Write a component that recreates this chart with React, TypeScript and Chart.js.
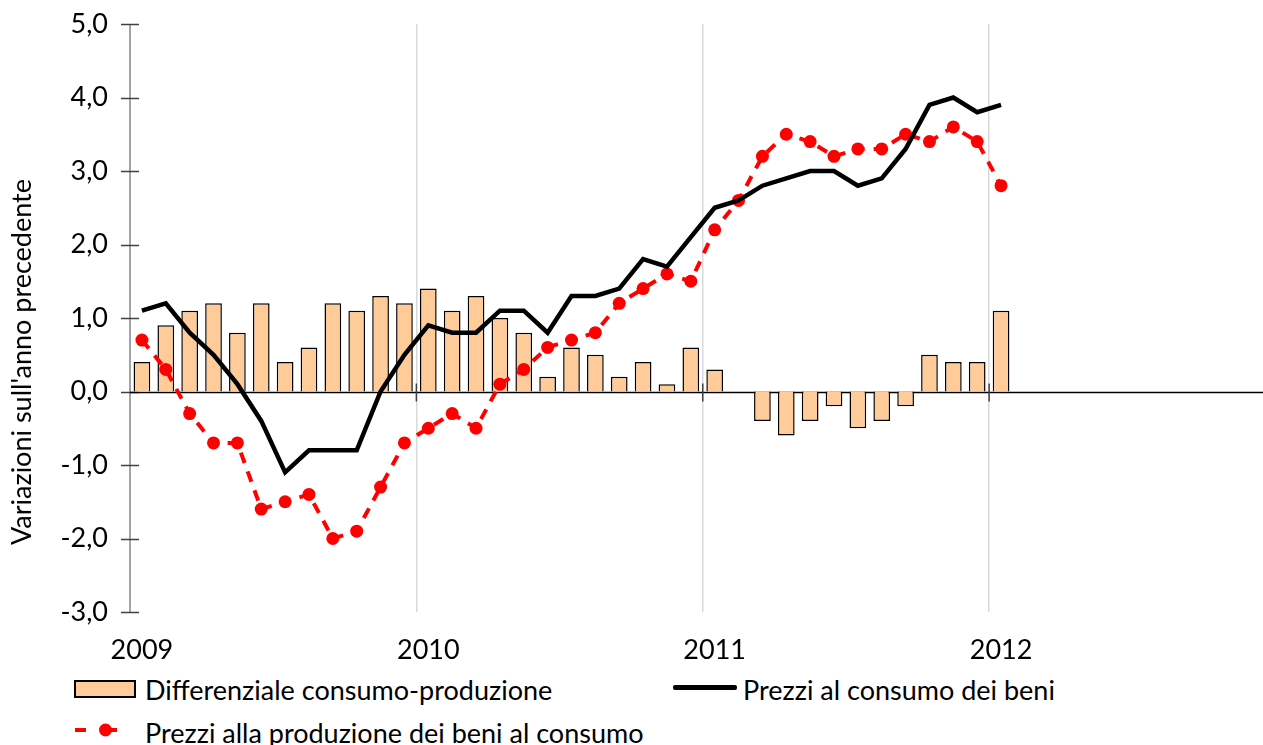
import React, { useEffect, useRef } from 'react';
import { Chart, registerables } from 'chart.js';

Chart.register(...registerables);

const FONT = 'Lato, "Liberation Sans", sans-serif';
const FONT_SIZE = 27;

const years = ['2009', '2010', '2011', '2012'];
const months = [
  '2009-01', '2009-02', '2009-03', '2009-04', '2009-05', '2009-06', '2009-07', '2009-08', '2009-09', '2009-10', '2009-11', '2009-12',
  '2010-01', '2010-02', '2010-03', '2010-04', '2010-05', '2010-06', '2010-07', '2010-08', '2010-09', '2010-10', '2010-11', '2010-12',
  '2011-01', '2011-02', '2011-03', '2011-04', '2011-05', '2011-06', '2011-07', '2011-08', '2011-09', '2011-10', '2011-11', '2011-12',
  '2012-01', '2012-02', '2012-03', '2012-04', '2012-05', '2012-06', '2012-07', '2012-08', '2012-09', '2012-10', '2012-11', '2012-12',
];

// Differenziale consumo-produzione (bars)
const differential = [
  0.4, 0.9, 1.1, 1.2, 0.8, 1.2, 0.4, 0.6, 1.2, 1.1, 1.3, 1.2,
  1.4, 1.1, 1.3, 1.0, 0.8, 0.2, 0.6, 0.5, 0.2, 0.4, 0.1, 0.6,
  0.3, 0.0, -0.4, -0.6, -0.4, -0.2, -0.5, -0.4, -0.2, 0.5, 0.4, 0.4,
  1.1,
];

// Prezzi al consumo dei beni (black line)
const consumerPrices = [
  1.1, 1.2, 0.8, 0.5, 0.1, -0.4, -1.1, -0.8, -0.8, -0.8, 0.0, 0.5,
  0.9, 0.8, 0.8, 1.1, 1.1, 0.8, 1.3, 1.3, 1.4, 1.8, 1.7, 2.1,
  2.5, 2.6, 2.8, 2.9, 3.0, 3.0, 2.8, 2.9, 3.3, 3.9, 4.0, 3.8,
  3.9,
];

// Prezzi alla produzione dei beni al consumo (red dashed line)
const producerPrices = [
  0.7, 0.3, -0.3, -0.7, -0.7, -1.6, -1.5, -1.4, -2.0, -1.9, -1.3, -0.7,
  -0.5, -0.3, -0.5, 0.1, 0.3, 0.6, 0.7, 0.8, 1.2, 1.4, 1.6, 1.5,
  2.2, 2.6, 3.2, 3.5, 3.4, 3.2, 3.3, 3.3, 3.5, 3.4, 3.6, 3.4,
  2.8,
];

const Y_MIN = -3;
const Y_MAX = 5;

const fmt = (v: number) => v.toFixed(1).replace('.', ',');

export default function App() {
  const ref = useRef<HTMLCanvasElement>(null);

  useEffect(() => {
    document.body.style.margin = '0';
    document.body.style.overflow = 'hidden';
    Chart.defaults.font.family = FONT;
    Chart.defaults.font.size = FONT_SIZE;
    Chart.defaults.color = '#000';

    const decor = {
      id: 'decor',
      beforeDatasetsDraw(chart: any) {
        const { ctx, chartArea, scales } = chart;
        const { left, right, top, bottom } = chartArea;
        const x = scales.x;
        const y = scales.y;
        ctx.save();
        // y axis line
        ctx.strokeStyle = '#868686';
        ctx.lineWidth = 1.5;
        ctx.beginPath();
        ctx.moveTo(left, top);
        ctx.lineTo(left, bottom);
        ctx.stroke();
        // y tick marks (crossing)
        ctx.strokeStyle = '#404040';
        y.ticks.forEach((t: any) => {
          const py = Math.round(y.getPixelForValue(t.value)) + 0.5;
          ctx.beginPath();
          ctx.moveTo(left - 9, py);
          ctx.lineTo(left + 9, py);
          ctx.stroke();
        });
        // zero line
        const y0 = Math.round(y.getPixelForValue(0)) + 0.5;
        ctx.strokeStyle = '#000';
        ctx.lineWidth = 1.5;
        ctx.beginPath();
        ctx.moveTo(left, y0);
        ctx.lineTo(right, y0);
        ctx.stroke();
        // year tick marks on zero line
        ctx.strokeStyle = '#404040';
        for (let i = 12; i <= months.length; i += 12) {
          const px = i === months.length
            ? right
            : (x.getPixelForValue(i - 1) + x.getPixelForValue(i)) / 2;
          ctx.beginPath();
          ctx.moveTo(px, y0 - 9);
          ctx.lineTo(px, y0 + 9);
          ctx.stroke();
        }
        ctx.restore();
      },
    };

    const chart = new Chart(ref.current as HTMLCanvasElement, {
      type: 'bar',
      data: {
        labels: months,
        datasets: [
          {
            type: 'line',
            label: 'Prezzi al consumo dei beni',
            data: consumerPrices,
            borderColor: '#000',
            borderWidth: 4.5,
            pointRadius: 0,
            tension: 0,
            order: 1,
          } as any,
          {
            type: 'line',
            label: 'Prezzi alla produzione dei beni al consumo',
            data: producerPrices,
            borderColor: '#ff0000',
            borderWidth: 4,
            borderDash: [11, 9],
            pointRadius: 6.5,
            pointBackgroundColor: '#ff0000',
            pointBorderWidth: 0,
            pointBorderColor: '#ff0000',
            tension: 0,
            order: 2,
          } as any,
          {
            type: 'bar',
            label: 'Differenziale consumo-produzione',
            data: differential,
            backgroundColor: '#ffcc99',
            borderColor: '#000',
            borderWidth: 1.5,
            barPercentage: 0.7,
            categoryPercentage: 1,
            order: 3,
          } as any,
        ],
      },
      options: {
        responsive: false,
        animation: false,
        layout: { padding: { top: 24, left: 0, right: 0, bottom: 0 } },
        plugins: {
          legend: { display: false },
          tooltip: { enabled: false },
        },
        scales: {
          x: {
            type: 'category',
            offset: true,
            border: { display: false },
            grid: {
              offset: true,
              drawTicks: false,
              lineWidth: 1.5,
              color: (c: any) => (c.index % 12 === 0 && c.index > 0 && c.index < months.length ? '#d9d9d9' : 'rgba(0,0,0,0)'),
            },
            ticks: {
              autoSkip: false,
              maxRotation: 0,
              minRotation: 0,
              padding: 22,
              color: '#000',
              callback: (_v: any, idx: number) => (idx % 12 === 0 ? years[idx / 12] : ''),
            },
            afterFit: (s: any) => {
              s.height = 50;
              s.paddingLeft = 0;
              s.paddingRight = 0;
            },
          },
          y: {
            min: Y_MIN,
            max: Y_MAX,
            border: { display: false },
            grid: { display: false, drawTicks: false },
            ticks: {
              stepSize: 1,
              padding: 22,
              color: '#000',
              callback: (v: any) => fmt(Number(v)),
            },
            afterFit: (s: any) => {
              s.width = 130;
              s.paddingTop = 0;
              s.paddingBottom = 0;
            },
          },
        },
      },
      plugins: [decor],
    });
    return () => chart.destroy();
  }, []);

  const text: React.CSSProperties = {
    position: 'absolute',
    fontFamily: FONT,
    fontSize: FONT_SIZE,
    color: '#000',
    whiteSpace: 'nowrap',
    lineHeight: '32px',
  };

  return (
    <div style={{ position: 'relative', width: 1263, height: 745, overflow: 'hidden', background: '#fff' }}>
      <canvas ref={ref} width={1282} height={662} style={{ position: 'absolute', left: 0, top: 0 }} />
      <div
        style={{
          ...text,
          left: 21,
          top: 362,
          transform: 'translate(-50%, -50%) rotate(-90deg)',
        }}
      >
        Variazioni sull'anno precedente
      </div>
      {/* Legend row 1 */}
      <div style={{ position: 'absolute', left: 74, top: 680, width: 58, height: 14, background: '#ffcc99', border: '2px solid #000' }} />
      <div style={{ ...text, left: 145, top: 674 }}>Differenziale consumo-produzione</div>
      <div style={{ position: 'absolute', left: 673, top: 685, width: 64, height: 4.5, background: '#000', borderRadius: 2 }} />
      <div style={{ ...text, left: 743, top: 674 }}>Prezzi al consumo dei beni</div>
      {/* Legend row 2 */}
      <svg style={{ position: 'absolute', left: 70, top: 720 }} width={52} height={20}>
        <line x1={5} y1={10} x2={16} y2={10} stroke="#ff0000" strokeWidth={4} />
        <line x1={35} y1={10} x2={47} y2={10} stroke="#ff0000" strokeWidth={4} />
        <circle cx={35.5} cy={10} r={6.5} fill="#ff0000" />
      </svg>
      <div style={{ ...text, left: 145, top: 717 }}>Prezzi alla produzione dei beni al consumo</div>
    </div>
  );
}
